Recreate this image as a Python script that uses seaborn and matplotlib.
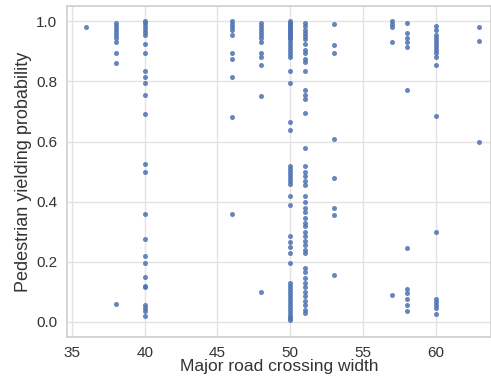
import matplotlib
matplotlib.use("Agg")
import matplotlib.pyplot as plt
import seaborn as sns
import pandas as pd

# Data (one list per crossing width)
w36 = [0.98]
w38 = [0.995, 0.985, 0.975, 0.965, 0.955, 0.945, 0.93, 0.895, 0.86, 0.06]
w40 = [1.0, 0.995, 0.985, 0.975, 0.965, 0.955, 0.925, 0.895, 0.835, 0.815, 0.795,
       0.755, 0.69, 0.525, 0.5, 0.36, 0.275, 0.22, 0.195, 0.15, 0.12, 0.115,
       0.055, 0.045, 0.035, 0.02]
w46 = [1.0, 0.99, 0.98, 0.97, 0.955, 0.895, 0.875, 0.815, 0.68, 0.36]
w48 = [0.995, 0.985, 0.975, 0.965, 0.955, 0.945, 0.93, 0.895, 0.88, 0.855, 0.75, 0.1]
w50 = [1.0, 0.995, 0.99, 0.985, 0.98, 0.975, 0.97, 0.965, 0.96, 0.955, 0.95, 0.945,
       0.94, 0.93, 0.92, 0.91, 0.9, 0.89, 0.88, 0.835, 0.795, 0.665, 0.64,
       0.52, 0.51, 0.5, 0.49, 0.48, 0.47, 0.46, 0.42, 0.39,
       0.285, 0.265, 0.25, 0.23, 0.195,
       0.13, 0.12, 0.11, 0.1, 0.09, 0.08, 0.07, 0.06, 0.05, 0.04, 0.03, 0.02,
       0.012, 0.005]
w51 = [0.995, 0.985, 0.97, 0.96, 0.95, 0.94, 0.925, 0.905, 0.895, 0.875, 0.865,
       0.835, 0.77, 0.755, 0.74, 0.695, 0.58, 0.52, 0.5, 0.485, 0.47, 0.455,
       0.42, 0.4, 0.38, 0.365, 0.345, 0.33, 0.32, 0.3, 0.285, 0.27, 0.255,
       0.24, 0.23, 0.18, 0.165, 0.145, 0.13, 0.115, 0.1, 0.085, 0.07, 0.055,
       0.04, 0.03]
w53 = [0.99, 0.92, 0.895, 0.61, 0.48, 0.38, 0.355, 0.155]
w57 = [1.0, 0.99, 0.98, 0.93, 0.09]
w58 = [0.995, 0.96, 0.945, 0.93, 0.915, 0.77, 0.245, 0.11, 0.095, 0.075, 0.055, 0.035]
w60 = [0.985, 0.97, 0.955, 0.945, 0.935, 0.925, 0.915, 0.905, 0.895, 0.88, 0.855,
       0.685, 0.3, 0.075, 0.065, 0.055, 0.045, 0.025]
w63 = [0.98, 0.935, 0.6]

widths = [36, 38, 40, 46, 48, 50, 51, 53, 57, 58, 60, 63]
series = [w36, w38, w40, w46, w48, w50, w51, w53, w57, w58, w60, w63]

xs, ys = [], []
for w, vals in zip(widths, series):
    xs += [w] * len(vals)
    ys += vals
df = pd.DataFrame({"Major road crossing width": xs,
                   "Pedestrian yielding probability": ys})

sns.set_theme(style="whitegrid", rc={"grid.color": "#e3e3e3",
                                     "axes.edgecolor": "#d0d0d0"})
plt.rcParams["font.family"] = ["Liberation Sans", "DejaVu Sans"]

fig = plt.figure(figsize=(4.91, 3.77), dpi=100)
ax = fig.add_axes([0.136, 0.107, 0.864, 0.876])
sns.scatterplot(data=df, x="Major road crossing width",
                y="Pedestrian yielding probability", ax=ax,
                s=13, color="#4c72b0", linewidth=0, alpha=0.85)
ax.set_xlim(34.65, 63.8)
ax.set_ylim(-0.05, 1.05)
ax.set_xticks([35, 40, 45, 50, 55, 60])
ax.set_yticks([0.0, 0.2, 0.4, 0.6, 0.8, 1.0])
ax.tick_params(labelsize=11, pad=1, labelcolor="#333333")
ax.set_xlabel("Major road crossing width", fontsize=12.5, labelpad=-1, color="#333333")
ax.set_ylabel("Pedestrian yielding probability", fontsize=13, labelpad=3, color="#333333")
fig.savefig("out.png", dpi=100)
